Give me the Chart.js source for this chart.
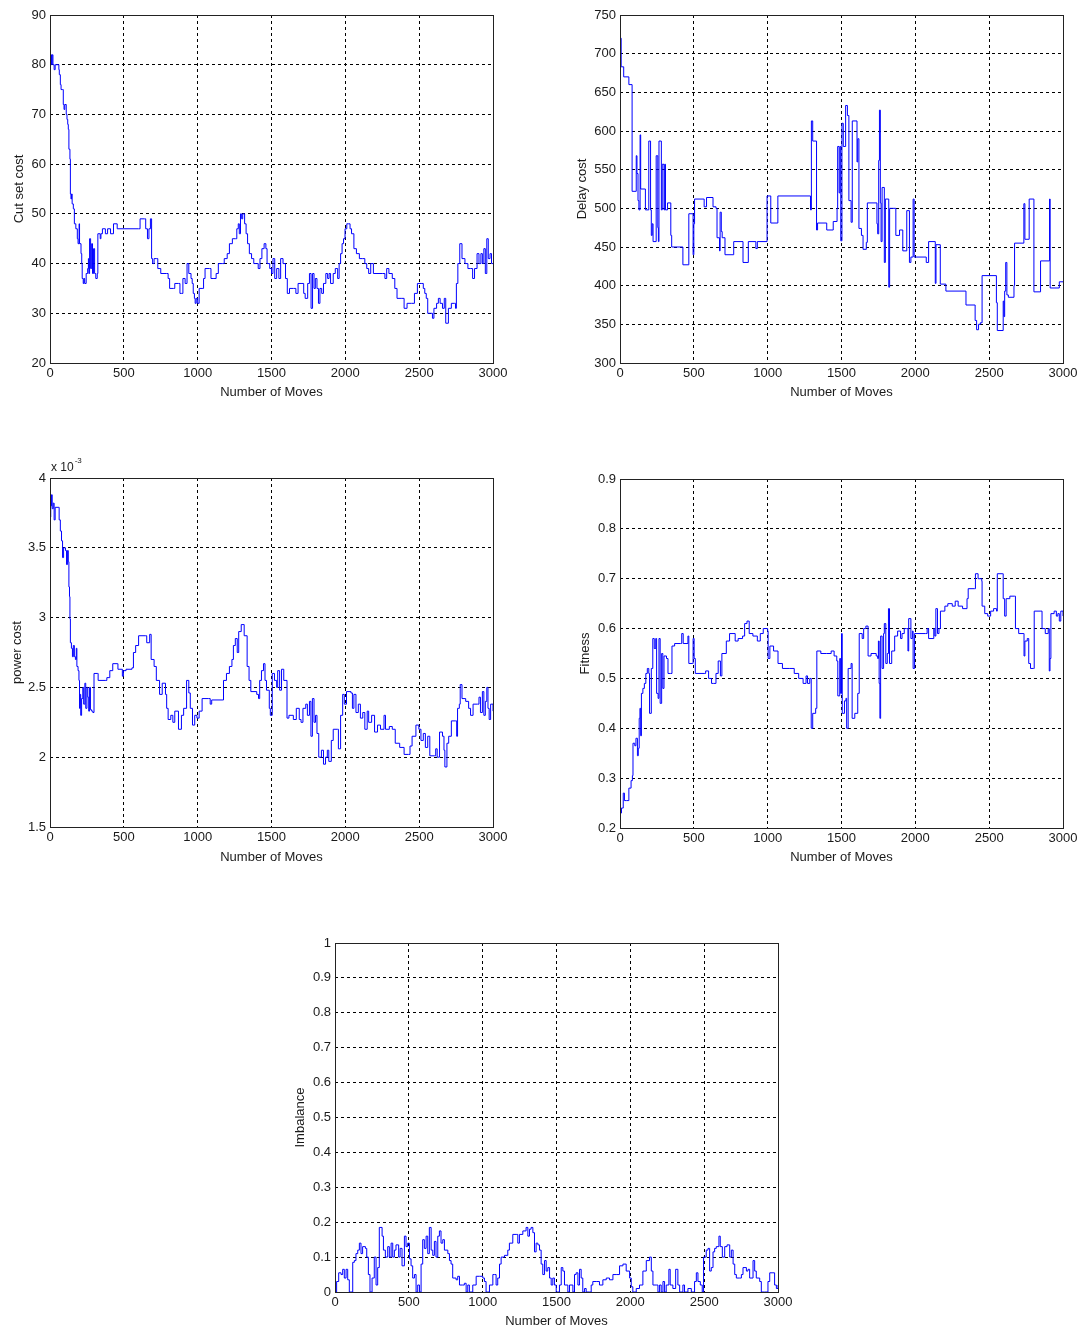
<!DOCTYPE html>
<html>
<head>
<meta charset="utf-8">
<title>Number of Moves</title>
<script src="https://cdn.jsdelivr.net/npm/chart.js@4.4.1/dist/chart.umd.min.js"></script>
<style>
  html, body { margin: 0; padding: 0; background: #fff; }
  #page { position: relative; width: 1083px; height: 1329px; overflow: hidden; background: #fff; }
  #page canvas { position: absolute; }
</style>
</head>
<body>
<div id="page">
  <canvas id="cutSetChart"></canvas>
  <canvas id="delayChart"></canvas>
  <canvas id="powerChart"></canvas>
  <canvas id="fitnessChart"></canvas>
  <canvas id="imbalanceChart"></canvas>
</div>
<script>
// [move, value] pairs for each cost trace
const cutSetCost = [[0,81],[5,82],[10,80],[15,82],[20,80],[28,79],[35,80],[55,80],[60,79],[63,78],[70,76],[75,75],[86,75],[90,72],[95,71],[100,72],[110,70],[115,69],[120,68],[124,67],[128,63],[135,61],[138,54],[142,53],[146,54],[150,52],[158,51],[165,48],[175,47],[185,45],[190,44],[197,48],[200,44],[210,42],[215,40],[218,37],[225,36],[230,37],[235,36],[245,38],[255,39],[260,41],[263,38],[268,45],[275,39],[282,44],[288,38],[295,43],[302,38],[310,37],[320,38],[324,46],[340,45],[345,46],[355,47],[375,46],[390,47],[410,46],[430,48],[455,47],[600,47],[610,49],[640,49],[648,47],[660,45],[670,47],[680,49],[688,41],[695,40],[705,41],[720,41],[730,39],[750,38],[790,38],[800,37],[810,35],[835,35],[845,36],[870,36],[880,34],[890,34],[900,37],[915,36],[928,40],[940,38],[955,37],[963,36],[970,34],[978,33],[983,32],[990,33],[1000,32],[1010,35],[1030,35],[1040,37],[1050,39],[1080,39],[1090,37],[1110,37],[1125,38],[1140,40],[1170,40],[1180,41],[1200,42],[1215,44],[1235,45],[1255,45],[1265,47],[1275,48],[1282,46],[1290,50],[1298,49],[1305,50],[1318,48],[1328,46],[1338,44],[1350,42],[1365,41],[1380,40],[1400,40],[1410,39],[1422,41],[1435,43],[1450,44],[1462,43],[1470,40],[1488,39],[1500,38],[1510,41],[1522,37],[1535,39],[1550,37],[1562,41],[1578,40],[1595,37],[1607,34],[1622,35],[1650,35],[1665,34],[1680,36],[1700,36],[1718,34],[1728,33],[1745,36],[1757,38],[1768,31],[1778,38],[1788,35],[1797,37],[1808,35],[1818,32],[1828,35],[1840,34],[1852,36],[1868,38],[1880,37],[1890,38],[1900,36],[1918,38],[1932,39],[1948,37],[1958,40],[1968,42],[1978,44],[1988,45],[1998,47],[2010,48],[2022,48],[2032,47],[2042,46],[2058,43],[2075,42],[2095,41],[2118,41],[2132,40],[2145,39],[2158,38],[2172,40],[2190,38],[2250,38],[2268,37],[2280,39],[2295,38],[2318,37],[2335,35],[2350,33],[2378,33],[2398,31],[2418,32],[2448,32],[2468,34],[2488,36],[2518,36],[2528,35],[2538,34],[2548,33],[2558,30],[2578,30],[2590,29],[2600,31],[2618,32],[2630,33],[2642,32],[2658,31],[2670,33],[2680,28],[2698,31],[2718,32],[2738,32],[2746,31],[2752,36],[2762,40],[2775,44],[2790,41],[2810,40],[2830,39],[2848,39],[2862,37],[2875,39],[2892,42],[2905,40],[2918,42],[2928,40],[2938,43],[2948,38],[2958,45],[2968,41],[2980,42],[2990,40],[3000,40]];

// delay cost holds each level until the next listed move
const delayCost = [[0,690],[3,720],[8,683],[25,670],[60,660],[82,522],[110,568],[115,545],[122,510],[128,498],[136,595],[140,525],[172,498],[195,587],[207,498],[212,465],[218,480],[224,457],[245,568],[256,475],[260,457],[264,587],[280,498],[286,557],[298,498],[303,557],[308,498],[322,507],[344,465],[350,450],[426,427],[466,493],[495,440],[500,480],[505,512],[570,502],[586,514],[630,502],[650,500],[657,462],[674,445],[678,495],[686,470],[692,462],[711,440],[770,457],[833,430],[869,457],[920,448],[930,457],[996,516],[1021,481],[1069,516],[1290,498],[1296,613],[1305,587],[1331,472],[1338,481],[1400,472],[1444,483],[1470,500],[1474,580],[1484,520],[1490,580],[1495,458],[1503,610],[1512,580],[1528,633],[1540,620],[1550,510],[1565,482],[1573,613],[1605,560],[1610,590],[1618,474],[1635,465],[1646,447],[1668,456],[1675,507],[1740,480],[1745,467],[1752,562],[1757,627],[1763,507],[1768,457],[1775,527],[1790,430],[1797,512],[1820,398],[1826,500],[1868,465],[1893,472],[1915,445],[1942,497],[1960,430],[1970,437],[1985,512],[1992,437],[2074,430],[2090,457],[2135,403],[2140,453],[2169,402],[2207,393],[2343,375],[2405,355],[2415,343],[2428,350],[2440,352],[2452,413],[2549,378],[2555,342],[2595,380],[2600,360],[2605,393],[2612,430],[2620,388],[2630,385],[2668,400],[2672,455],[2735,506],[2742,460],[2771,512],[2803,392],[2848,432],[2909,512],[2913,397],[2975,405],[3000,405]];

// power cost in units of 1e-3
const powerCost = [[0,3.72],[5,3.80],[10,3.88],[15,3.78],[22,3.82],[28,3.70],[35,3.79],[55,3.79],[62,3.70],[70,3.62],[78,3.55],[85,3.43],[92,3.50],[105,3.48],[112,3.38],[118,3.48],[124,3.40],[128,3.22],[132,3.15],[135,2.99],[138,2.82],[145,2.78],[152,2.72],[158,2.80],[165,2.72],[172,2.70],[178,2.78],[182,2.65],[190,2.62],[196,2.55],[200,2.35],[204,2.45],[208,2.30],[214,2.42],[222,2.50],[228,2.38],[236,2.53],[242,2.35],[250,2.50],[256,2.43],[262,2.33],[268,2.50],[274,2.34],[282,2.33],[290,2.32],[298,2.60],[320,2.60],[326,2.55],[378,2.55],[385,2.57],[405,2.62],[425,2.67],[455,2.67],[460,2.63],[490,2.58],[497,2.62],[515,2.63],[555,2.64],[565,2.75],[580,2.80],[600,2.87],[645,2.87],[655,2.82],[675,2.88],[685,2.70],[705,2.65],[720,2.55],[742,2.45],[760,2.53],[782,2.45],[790,2.35],[800,2.27],[818,2.30],[832,2.25],[845,2.33],[870,2.20],[890,2.30],[905,2.35],[925,2.55],[940,2.46],[950,2.35],[965,2.23],[980,2.30],[995,2.28],[1010,2.33],[1030,2.42],[1075,2.42],[1085,2.38],[1095,2.41],[1165,2.41],[1175,2.55],[1195,2.60],[1215,2.65],[1232,2.70],[1242,2.80],[1255,2.85],[1268,2.75],[1278,2.90],[1295,2.95],[1315,2.87],[1335,2.65],[1348,2.55],[1360,2.47],[1400,2.45],[1412,2.42],[1420,2.55],[1432,2.62],[1446,2.67],[1456,2.55],[1466,2.48],[1485,2.35],[1492,2.30],[1505,2.60],[1520,2.55],[1535,2.50],[1542,2.62],[1555,2.48],[1568,2.63],[1583,2.55],[1605,2.28],[1618,2.30],[1648,2.27],[1668,2.35],[1688,2.27],[1700,2.25],[1713,2.35],[1732,2.38],[1743,2.30],[1757,2.40],[1767,2.15],[1777,2.42],[1788,2.25],[1798,2.30],[1808,2.17],[1820,2.00],[1838,2.05],[1852,1.95],[1866,2.00],[1878,2.05],[1888,1.97],[1905,2.12],[1918,2.20],[1948,2.20],[1953,2.06],[1968,2.30],[1982,2.45],[1993,2.38],[2008,2.47],[2038,2.46],[2048,2.35],[2058,2.45],[2072,2.32],[2088,2.38],[2102,2.28],[2118,2.32],[2132,2.20],[2148,2.33],[2158,2.25],[2178,2.30],[2198,2.18],[2218,2.23],[2238,2.20],[2262,2.30],[2272,2.20],[2298,2.22],[2318,2.20],[2338,2.10],[2368,2.07],[2398,2.02],[2428,2.02],[2438,2.08],[2452,2.15],[2478,2.23],[2498,2.20],[2512,2.12],[2528,2.17],[2542,2.07],[2558,2.15],[2572,2.01],[2602,2.01],[2612,2.06],[2622,2.00],[2638,2.18],[2658,2.15],[2668,2.05],[2674,1.93],[2688,2.10],[2700,2.15],[2718,2.26],[2748,2.26],[2754,2.15],[2760,2.35],[2772,2.38],[2778,2.52],[2790,2.42],[2815,2.40],[2835,2.35],[2848,2.30],[2865,2.38],[2895,2.38],[2905,2.43],[2915,2.32],[2928,2.47],[2938,2.30],[2948,2.40],[2958,2.50],[2966,2.35],[2974,2.27],[2984,2.38],[3000,2.33]];

const fitness = [[0,0.23],[10,0.24],[22,0.27],[30,0.255],[45,0.255],[60,0.28],[75,0.295],[84,0.305],[88,0.37],[100,0.365],[108,0.38],[118,0.345],[124,0.36],[130,0.42],[135,0.44],[140,0.385],[145,0.47],[155,0.48],[165,0.49],[175,0.51],[185,0.52],[195,0.51],[200,0.43],[212,0.52],[222,0.58],[232,0.56],[242,0.58],[248,0.47],[258,0.46],[264,0.58],[272,0.45],[282,0.55],[290,0.48],[298,0.545],[315,0.54],[325,0.51],[342,0.51],[352,0.565],[370,0.57],[410,0.57],[418,0.59],[428,0.57],[460,0.585],[466,0.53],[490,0.53],[495,0.58],[502,0.54],[510,0.51],[570,0.51],[580,0.515],[600,0.50],[620,0.49],[632,0.49],[650,0.51],[665,0.535],[680,0.505],[690,0.55],[720,0.575],[742,0.59],[780,0.575],[800,0.58],[830,0.585],[844,0.61],[860,0.615],[875,0.59],[900,0.585],[930,0.575],[950,0.59],[970,0.60],[1000,0.595],[1003,0.54],[1015,0.565],[1040,0.555],[1070,0.53],[1100,0.52],[1150,0.52],[1180,0.51],[1210,0.50],[1240,0.49],[1260,0.505],[1270,0.49],[1285,0.50],[1295,0.40],[1305,0.43],[1325,0.44],[1333,0.555],[1360,0.55],[1400,0.55],[1430,0.555],[1450,0.545],[1468,0.535],[1475,0.465],[1488,0.54],[1494,0.47],[1500,0.59],[1505,0.43],[1520,0.455],[1530,0.46],[1535,0.40],[1545,0.52],[1565,0.53],[1572,0.42],[1590,0.43],[1610,0.47],[1620,0.59],[1640,0.58],[1650,0.60],[1665,0.605],[1680,0.545],[1700,0.55],[1735,0.545],[1745,0.54],[1750,0.575],[1755,0.49],[1760,0.42],[1765,0.585],[1775,0.52],[1785,0.59],[1790,0.61],[1800,0.53],[1810,0.55],[1818,0.64],[1825,0.53],[1840,0.555],[1860,0.585],[1880,0.595],[1900,0.58],[1910,0.59],[1925,0.60],[1940,0.60],[1950,0.555],[1955,0.62],[1970,0.58],[1980,0.595],[1985,0.52],[1995,0.59],[2070,0.59],[2080,0.60],[2090,0.58],[2120,0.58],[2125,0.60],[2132,0.585],[2139,0.64],[2150,0.59],[2160,0.60],[2170,0.635],[2200,0.645],[2220,0.65],[2250,0.645],[2270,0.655],[2290,0.645],[2320,0.64],[2350,0.66],[2358,0.68],[2400,0.68],[2407,0.71],[2425,0.70],[2450,0.695],[2452,0.645],[2470,0.63],[2490,0.625],[2510,0.635],[2530,0.64],[2550,0.635],[2555,0.71],[2588,0.71],[2595,0.66],[2605,0.625],[2615,0.66],[2640,0.665],[2672,0.665],[2678,0.60],[2700,0.59],[2730,0.59],[2736,0.545],[2742,0.575],[2758,0.58],[2768,0.53],[2780,0.52],[2800,0.52],[2805,0.635],[2850,0.635],[2858,0.60],[2880,0.59],[2900,0.60],[2907,0.515],[2912,0.54],[2918,0.63],[2940,0.635],[2955,0.625],[2965,0.63],[2975,0.615],[2985,0.635],[3000,0.625]];

const imbalance = [[0,0],[11,0.03],[25,0.055],[41,0.05],[52,0.065],[63,0.04],[75,0.065],[86,0.035],[97,0],[108,0],[120,0.085],[131,0.09],[142,0.11],[154,0.12],[165,0.14],[176,0.11],[187,0.13],[206,0.125],[215,0.1],[226,0.05],[237,0],[251,0.04],[266,0.1],[278,0.02],[289,0.07],[300,0.185],[319,0.16],[328,0.12],[341,0.1],[357,0.13],[368,0.1],[380,0.14],[391,0.1],[402,0.12],[413,0.135],[431,0.1],[441,0.125],[454,0.075],[470,0.16],[481,0.13],[492,0.14],[504,0.095],[515,0.075],[526,0.04],[538,0.05],[549,0],[560,0.02],[572,0],[583,0.08],[594,0.15],[605,0.125],[617,0.16],[628,0.11],[639,0.185],[651,0.12],[662,0.105],[673,0.145],[684,0.1],[696,0.16],[707,0.175],[718,0.14],[730,0.15],[741,0.12],[764,0.11],[775,0.09],[786,0.08],[797,0.04],[820,0.035],[831,0.045],[843,0.02],[865,0.02],[876,0.025],[888,0],[899,0.02],[910,0],[933,0.02],[956,0.045],[978,0.045],[1001,0.04],[1012,0.03],[1023,0],[1035,0],[1046,0.02],[1069,0.05],[1080,0.05],[1091,0.02],[1102,0.04],[1114,0.08],[1125,0.1],[1148,0.105],[1170,0.12],[1181,0.14],[1204,0.165],[1227,0.165],[1238,0.14],[1249,0.165],[1272,0.175],[1294,0.185],[1306,0.16],[1317,0.18],[1328,0.185],[1340,0.17],[1351,0.115],[1362,0.14],[1374,0.135],[1385,0.12],[1396,0.08],[1407,0.05],[1419,0.09],[1430,0.06],[1441,0.07],[1453,0.04],[1464,0.02],[1475,0.04],[1486,0.02],[1498,0],[1509,0],[1520,0.02],[1532,0.07],[1543,0.06],[1554,0.02],[1577,0],[1588,0.02],[1611,0],[1622,0.05],[1633,0.055],[1645,0.02],[1656,0.065],[1667,0.04],[1678,0],[1690,0.01],[1701,0],[1724,0],[1735,0.02],[1746,0.03],[1769,0.03],[1791,0.02],[1814,0.035],[1837,0.04],[1859,0.035],[1882,0.05],[1904,0.05],[1927,0.075],[1950,0.08],[1972,0.06],[1995,0.04],[2006,0.015],[2017,0],[2040,0.01],[2062,0.02],[2085,0.06],[2108,0.09],[2130,0.1],[2142,0.06],[2153,0.02],[2175,0.02],[2187,0],[2198,0.02],[2209,0],[2221,0.03],[2232,0],[2243,0.02],[2261,0.065],[2270,0.02],[2288,0.01],[2307,0.065],[2322,0.02],[2334,0],[2356,0.02],[2367,0],[2390,0.01],[2413,0],[2435,0.03],[2447,0.055],[2458,0.03],[2474,0.02],[2487,0],[2496,0.1],[2514,0.12],[2526,0.125],[2537,0.06],[2548,0.07],[2560,0.115],[2571,0.125],[2582,0.13],[2600,0.16],[2609,0.13],[2623,0.1],[2639,0.13],[2655,0.135],[2673,0.1],[2684,0.12],[2696,0.08],[2707,0.05],[2718,0.04],[2741,0.04],[2752,0.05],[2763,0.07],[2786,0.06],[2797,0.065],[2808,0.04],[2831,0.09],[2842,0.06],[2853,0.04],[2876,0.03],[2887,0],[2909,0],[2932,0.03],[2944,0.055],[2966,0.055],[2977,0.02],[2989,0.01],[3000,0.02]];

const moveTicks = { min: 0, max: 3000, step: 500 };

const FONT = { family: '"Liberation Sans", Arial, Helvetica, sans-serif', size: 13 };
const TEXT = '#1a1a1a';
const HALF_LINE = FONT.size * 1.2 / 2;

const fmt = v => String(Math.round(v * 1000) / 1000);

// dashed grid only inside the box, the outer edges are drawn solid by boxFrame
const innerGrid = c => {
  const n = c.scale.ticks.length;
  return (c.index === 0 || c.index === n - 1) ? 'rgba(0,0,0,0)' : '#000';
};

const boxFrame = {
  id: 'boxFrame',
  afterDatasetsDraw(chart) {
    const a = chart.chartArea, ctx = chart.ctx;
    ctx.save();
    ctx.strokeStyle = '#222';
    ctx.lineWidth = 1;
    ctx.setLineDash([]);
    ctx.strokeRect(Math.round(a.left) + 0.5, Math.round(a.top) + 0.5,
                   Math.round(a.right - a.left), Math.round(a.bottom - a.top));
    ctx.restore();
  }
};

// the "x 10^-3" multiplier above the power cost axis
const exponentNote = {
  id: 'exponentNote',
  afterDraw(chart) {
    const a = chart.chartArea, ctx = chart.ctx;
    ctx.save();
    ctx.fillStyle = TEXT;
    ctx.textBaseline = 'alphabetic';
    ctx.font = '12px ' + FONT.family;
    ctx.fillText('x 10', a.left + 1, a.top - 7);
    const w = ctx.measureText('x 10').width;
    ctx.font = '8px ' + FONT.family;
    ctx.fillText('-3', a.left + 2 + w, a.top - 15);
    ctx.restore();
  }
};

function makePanel(id, points, o) {
  const canvas = document.getElementById(id);
  const [L, T, W, H] = o.box;
  const [x0, y0, x1, y1] = o.area;
  canvas.width = W;
  canvas.height = H;
  canvas.style.left = L + 'px';
  canvas.style.top = T + 'px';
  canvas.style.width = W + 'px';
  canvas.style.height = H + 'px';

  return new Chart(canvas, {
    type: 'line',
    data: {
      datasets: [{
        data: points.map(p => ({ x: p[0], y: p[1] })),
        borderColor: '#0000ff',
        borderWidth: 1,
        pointRadius: 0,
        stepped: true,
        fill: false
      }]
    },
    options: {
      responsive: false,
      animation: false,
      devicePixelRatio: 1,
      layout: { padding: { left: 0, top: y0 - T, right: L + W - x1, bottom: 0 } },
      plugins: { legend: { display: false }, tooltip: { enabled: false } },
      scales: {
        x: {
          type: 'linear',
          min: moveTicks.min,
          max: moveTicks.max,
          afterFit: s => { s.height = T + H - y1; },
          ticks: { stepSize: moveTicks.step, padding: 3, color: TEXT, font: FONT,
                   maxRotation: 0, autoSkip: false, callback: fmt },
          grid: { color: innerGrid, lineWidth: 1, drawTicks: false },
          border: { display: false, dash: [3, 3] },
          title: { display: true, text: 'Number of Moves', color: TEXT, font: FONT,
                   padding: { top: 0, bottom: T + H - o.xTitleY - HALF_LINE } }
        },
        y: {
          type: 'linear',
          min: o.yMin,
          max: o.yMax,
          afterFit: s => { s.width = x0 - L; },
          ticks: { stepSize: o.yStep, padding: 4, color: TEXT, font: FONT, callback: fmt },
          grid: { color: innerGrid, lineWidth: 1, drawTicks: false },
          border: { display: false, dash: [3, 3] },
          title: { display: true, text: o.yTitle, color: TEXT, font: FONT,
                   padding: { top: o.yTitleX - L - HALF_LINE, bottom: 0 } }
        }
      }
    },
    plugins: o.extra ? [boxFrame, o.extra] : [boxFrame]
  });
}

makePanel('cutSetChart', cutSetCost, {
  box: [0, 0, 540, 405], area: [50, 15, 493, 363],
  yMin: 20, yMax: 90, yStep: 10, yTitle: 'Cut set cost', yTitleX: 19, xTitleY: 392
});

makePanel('delayChart', delayCost, {
  box: [545, 0, 538, 405], area: [620, 15, 1063, 363],
  yMin: 300, yMax: 750, yStep: 50, yTitle: 'Delay cost', yTitleX: 582, xTitleY: 392
});

makePanel('powerChart', powerCost, {
  box: [0, 440, 540, 430], area: [50, 478, 493, 827],
  yMin: 1.5, yMax: 4, yStep: 0.5, yTitle: 'power cost', yTitleX: 17, xTitleY: 857,
  extra: exponentNote
});

makePanel('fitnessChart', fitness, {
  box: [545, 440, 538, 430], area: [620, 479, 1063, 828],
  yMin: 0.2, yMax: 0.9, yStep: 0.1, yTitle: 'Fitness', yTitleX: 585, xTitleY: 857
});

makePanel('imbalanceChart', imbalance, {
  box: [260, 905, 560, 424], area: [335, 943, 778, 1292],
  yMin: 0, yMax: 1, yStep: 0.1, yTitle: 'Imbalance', yTitleX: 300, xTitleY: 1321
});
</script>
</body>
</html>
